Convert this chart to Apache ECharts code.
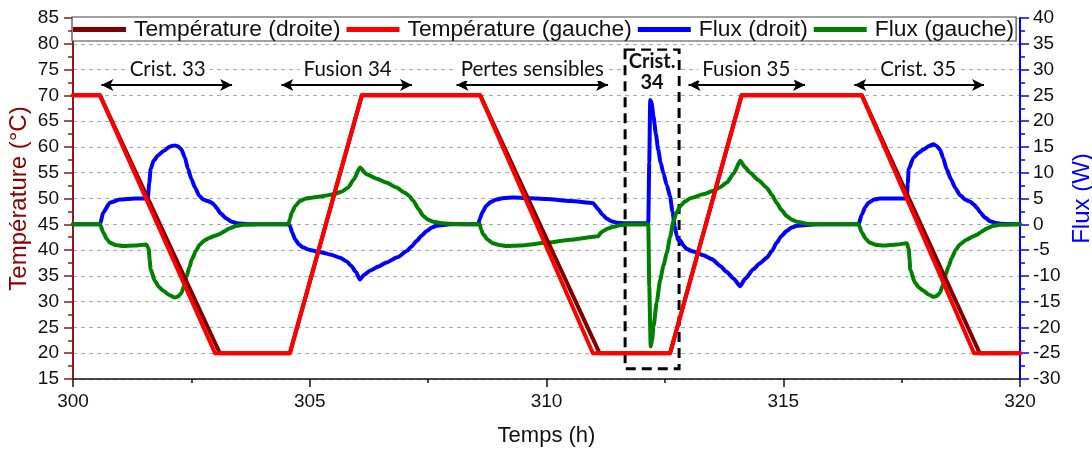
<!DOCTYPE html>
<html>
<head>
<meta charset="utf-8">
<script src="https://cdn.jsdelivr.net/npm/echarts@6/dist/echarts.min.js"></script>
<style>
html,body{margin:0;padding:0;background:#fff;}
#chart{width:1092px;height:450px;}
</style>
</head>
<body>
<div id="chart"></div>
<script>
// ---------- DATA ----------
const seriesNames = ['Température (droite)', 'Température (gauche)', 'Flux (droit)', 'Flux (gauche)'];

const tempGaucheT = [300, 300.57, 303.0, 304.58, 306.1, 308.6, 310.98, 312.61, 314.12, 316.66, 319.03, 320];
const tempGaucheV = [70, 70, 20, 20, 70, 70, 20, 20, 70, 70, 20, 20];

const tempDroiteT = [300, 300.57, 303.1, 304.58, 306.1, 308.6, 311.12, 312.61, 314.12, 316.66, 319.15, 320];
const tempDroiteV = [70, 70, 20, 20, 70, 70, 20, 20, 70, 70, 20, 20];

const fluxDroitT = [300, 300.57, 300.64, 300.78, 300.99, 301.3, 301.58, 301.61, 301.64, 301.70, 301.8, 301.91, 302.05, 302.15, 302.22, 302.29, 302.36, 302.43, 302.5, 302.58, 302.66, 302.75, 302.85, 302.93, 302.98, 303.03, 303.12, 303.24, 303.35, 303.46, 303.74,
  304.55, 304.58, 304.63, 304.69, 304.77, 304.86, 305.0, 305.22, 305.45, 305.64, 305.78, 305.88, 305.97, 306.06, 306.15, 306.27, 306.45, 306.62, 306.85, 307.05, 307.15, 307.26, 307.36, 307.47, 307.58, 307.68, 307.96,
  308.56, 308.59, 308.65, 308.73, 308.82, 308.94, 309.1, 309.3, 310.0, 310.5, 310.99, 311.04, 311.09, 311.18, 311.27, 311.37, 311.48, 311.65, 312.15,
  312.17, 312.19, 312.22, 312.26, 312.31, 312.36, 312.41, 312.47, 312.54, 312.61, 312.66, 312.71, 312.75, 312.78, 312.82, 312.9, 312.96, 313.1, 313.31, 313.5, 313.67, 313.8, 313.95, 314.09, 314.2, 314.37, 314.5, 314.65, 314.76, 314.86, 314.96, 315.07, 315.18, 315.29, 315.71,
  316.59, 316.66, 316.73, 316.80, 316.92, 317.04, 317.35, 317.61, 317.63, 317.65, 317.75, 317.85, 317.96, 318.08, 318.17, 318.24, 318.31, 318.38, 318.45, 318.54, 318.63, 318.73, 318.84, 318.94, 319.02, 319.09, 319.16, 319.26, 319.37, 319.47, 319.58, 320];
const fluxDroitV = [0, 0, 2.3, 4.2, 4.8, 5, 5, 8, 10.7, 12.3, 13.4, 14.2, 15.1, 15.3, 15.1, 14.5, 13, 10.7, 8.8, 7.1, 5.6, 4.8, 4.5, 4.2, 3.8, 3.2, 2.1, 1.1, 0.5, 0.2, 0,
  0, -0.3, -1.6, -2.9, -3.9, -4.5, -5.0, -5.4, -5.9, -6.5, -7.2, -8.1, -9.2, -10.7, -9.8, -9, -8.2, -7.4, -6.4, -5.2, -4.3, -3.2, -2.2, -1.3, -0.6, -0.3, 0,
  0, 1, 2.4, 3.6, 4.3, 4.8, 5.1, 5.2, 4.9, 4.5, 4.1, 3.5, 2.9, 1.9, 1.1, 0.6, 0.3, 0.2, 0.2,
  12, 24.1, 23.5, 20.9, 17.5, 14.4, 12, 9.9, 7.6, 5.4, 2.5, -0.5, -2.2, -3, -3.1, -4.2, -4.8, -5.3, -6.0, -6.8, -8.1, -9.2, -10.5, -12, -10.5, -8.7, -7.6, -6.5, -5.2, -3.6, -2.3, -1.3, -0.6, -0.3, 0,
  0, 1.9, 3.3, 4.2, 4.8, 5, 5, 5, 8, 10.7, 12.9, 13.8, 14.5, 15.2, 15.5, 15.2, 14.5, 12.8, 10.7, 8.8, 7.1, 5.7, 4.8, 4.4, 3.9, 3.2, 2.3, 1.3, 0.6, 0.3, 0.1, 0];

const fluxGaucheT = [300, 300.57, 300.64, 300.71, 300.78, 300.9, 301.06, 301.3, 301.55, 301.6, 301.62, 301.64, 301.73, 301.82, 301.91, 302.03, 302.15, 302.22, 302.29, 302.35, 302.40, 302.46, 302.51, 302.6, 302.68, 302.78, 302.89, 303.0, 303.10, 303.15, 303.21, 303.3, 303.46, 303.6, 303.88,
  304.55, 304.58, 304.62, 304.7, 304.79, 304.92, 305.07, 305.3, 305.5, 305.67, 305.81, 305.93, 306.06, 306.2, 306.4, 306.62, 306.82, 307.01, 307.1, 307.19, 307.3, 307.4, 307.5, 307.61, 307.8, 307.96, 308.38,
  308.59, 308.62, 308.66, 308.76, 308.87, 309.0, 309.16, 309.44, 310.0, 310.5, 311.09, 311.15, 311.2, 311.3, 311.41, 311.55, 311.69, 312.15,
  312.17, 312.2, 312.23, 312.26, 312.33, 312.40, 312.47, 312.54, 312.61, 312.68, 312.75, 312.82, 312.92, 313.03, 313.1, 313.3, 313.53, 313.67, 313.81, 313.95, 314.09, 314.2, 314.3, 314.47, 314.65, 314.76, 314.86, 314.96, 315.07, 315.18, 315.29, 315.5, 315.71,
  316.59, 316.66, 316.74, 316.83, 316.97, 317.12, 317.4, 317.61, 317.65, 317.67, 317.68, 317.78, 317.87, 317.96, 318.07, 318.17, 318.24, 318.31, 318.37, 318.42, 318.49, 318.56, 318.64, 318.73, 318.87, 319.02, 319.1, 319.16, 319.23, 319.30, 319.44, 319.58, 320];
const fluxGaucheV = [0, 0, -1.6, -2.8, -3.6, -4.0, -4.2, -4.1, -3.9, -4.8, -7, -8.7, -11, -12.2, -12.9, -13.7, -14.2, -14.0, -13.3, -11.8, -10, -8.3, -6.8, -5.1, -3.9, -3.1, -2.6, -2.2, -1.9, -1.6, -1.3, -0.8, -0.3, -0.1, 0,
  0, 1, 2.3, 3.6, 4.5, 5.0, 5.2, 5.5, 5.8, 6.3, 7.1, 8.7, 11, 9.7, 8.9, 8.1, 7.2, 6.1, 5.5, 4.5, 2.9, 1.6, 0.9, 0.5, 0.2, 0.1, 0,
  0, -1, -1.9, -3.0, -3.7, -4.0, -4.2, -4.1, -3.6, -3.0, -2.3, -1.6, -1.3, -0.8, -0.5, -0.2, -0.05, 0,
  -12, -23.7, -22.5, -19.8, -15, -10.8, -8, -5.6, -2.5, 0.6, 2.3, 3.5, 4.4, 5, 5.2, 5.8, 6.5, 7.2, 8.1, 9.8, 12.3, 11, 10, 8.6, 7.1, 5.7, 4.2, 2.8, 1.6, 0.9, 0.5, 0.1, 0,
  0, -1.6, -2.8, -3.6, -4.0, -4.1, -3.9, -3.7, -4.8, -7, -8.7, -11.3, -12.3, -12.9, -13.6, -14.1, -13.9, -13.3, -11.8, -10, -8.2, -6.5, -5.0, -3.9, -3.0, -2.3, -2.0, -1.6, -1.2, -0.8, -0.3, -0.1, 0];

// phase annotations
const phaseLabels = ['Crist. 33', 'Fusion 34', 'Pertes sensibles', 'Fusion 35', 'Crist. 35'];
const phaseLabelX = [302.0, 305.8, 309.7, 314.22, 317.85];
const phaseLabelY = 75;
const arrowStart = [300.6, 304.4, 308.1, 313.0, 316.5];
const arrowEnd = [303.36, 307.16, 311.3, 315.46, 319.24];
const arrowY = 72;
const boxLabel = 'Crist.\n34';
const boxX = [311.66, 312.80];
const boxY = [17, 78.8];
const boxLabelPos = [312.23, 74.6];

// ---------- CHART ----------
const zip = (a, b) => a.map((v, i) => [v, b[i]]);
const chart = echarts.init(document.getElementById('chart'), null, {renderer: 'canvas'});
const font = 'Liberation Sans';
const annFont = 'Lato';

const markLineData = arrowStart.map((s, i) => [{coord: [s, arrowY]}, {coord: [arrowEnd[i], arrowY]}]);
const markPointData = phaseLabels.map((t, i) => ({name: t, coord: [phaseLabelX[i], phaseLabelY]}));

const option = {
  animation: false,
  backgroundColor: '#fff',
  grid: {left: 73, right: 72, top: 18, bottom: 71, containLabel: false, outerBoundsMode: 'none'},
  legend: {
    data: seriesNames,
    left: 72, top: 17,
    padding: [1, 2, 0, 1],
    itemGap: 6,
    itemWidth: 53, itemHeight: 5,
    icon: 'rect',
    backgroundColor: '#fff',
    borderColor: '#444', borderWidth: 1.2,
    textStyle: {fontFamily: font, fontSize: 22.8, color: '#111', padding: [0, 0, 0, 3]},
    z: 10
  },
  xAxis: {
    type: 'value', min: 300, max: 320, interval: 5,
    name: 'Temps (h)', nameLocation: 'middle', nameGap: 46, nameMoveOverlap: false,
    nameTextStyle: {fontFamily: font, fontSize: 22, color: '#111'},
    axisLine: {show: true, onZero: false, lineStyle: {color: '#111', width: 1.5}},
    axisTick: {show: true, length: 8, lineStyle: {color: '#111', width: 1.5}},
    minorTick: {show: true, splitNumber: 2, length: 4, lineStyle: {color: '#111', width: 1.5}},
    axisLabel: {fontFamily: font, fontSize: 19, color: '#111', margin: 13},
    splitLine: {show: false}
  },
  yAxis: [
    {
      type: 'value', min: 15, max: 85, interval: 5, position: 'left',
      name: 'Température (°C)', nameLocation: 'middle', nameGap: 42, nameMoveOverlap: false,
      nameTextStyle: {fontFamily: font, fontSize: 24, color: '#8B0000'},
      axisLine: {show: true, onZero: false, lineStyle: {color: '#8B1A1A', width: 2}},
      axisTick: {show: true, length: 9, lineStyle: {color: '#8B1A1A', width: 1.5}},
      minorTick: {show: true, splitNumber: 2, length: 5, lineStyle: {color: '#8B1A1A', width: 1.5}},
      axisLabel: {fontFamily: font, fontSize: 19, color: '#111', margin: 14},
      splitLine: {show: true, lineStyle: {color: '#aaa', width: 1, type: [4, 4]}}
    },
    {
      type: 'value', min: -30, max: 40, interval: 5, position: 'right',
      name: 'Flux (W)', nameLocation: 'middle', nameGap: 50, nameMoveOverlap: false,
      nameTextStyle: {fontFamily: font, fontSize: 24, color: '#0000FF'},
      axisLine: {show: true, onZero: false, lineStyle: {color: '#0000FF', width: 2}},
      axisTick: {show: true, length: 9, lineStyle: {color: '#0000FF', width: 1.5}},
      minorTick: {show: true, splitNumber: 2, length: 5, lineStyle: {color: '#0000FF', width: 1.5}},
      axisLabel: {fontFamily: font, fontSize: 19, color: '#111', margin: 13},
      splitLine: {show: false}
    }
  ],
  series: [
    {
      name: seriesNames[0], type: 'line', yAxisIndex: 0, z: 4,
      data: zip(tempDroiteT, tempDroiteV), showSymbol: false, symbol: 'none',
      itemStyle: {color: '#800000'},
      lineStyle: {color: '#800000', width: 4, join: 'round', cap: 'round'}
    },
    {
      name: seriesNames[1], type: 'line', yAxisIndex: 0, z: 5,
      data: zip(tempGaucheT, tempGaucheV), showSymbol: false, symbol: 'none',
      itemStyle: {color: '#FF0000'},
      lineStyle: {color: '#FF0000', width: 4, join: 'round', cap: 'round'},
      markLine: {
        silent: true, symbol: ['arrow', 'arrow'], symbolSize: [9, 12],
        lineStyle: {color: '#000', width: 2, type: 'solid'},
        label: {show: false},
        data: markLineData
      },
      markPoint: {
        silent: true, symbol: 'rect', symbolSize: 1,
        itemStyle: {color: 'rgba(0,0,0,0)'},
        label: {show: true, position: 'inside', formatter: '{b}', fontFamily: annFont, fontSize: 20.5, color: '#111', backgroundColor: '#fff', padding: [1, 4]},
        data: markPointData.concat([{
          name: boxLabel, coord: boxLabelPos,
          label: {fontWeight: 'bold', fontSize: 20, lineHeight: 21, backgroundColor: '#fff', padding: [0, 2]}
        }])
      },
      markArea: {
        silent: true,
        itemStyle: {color: 'rgba(0,0,0,0)', borderColor: '#000', borderWidth: 3, borderType: [10, 6]},
        data: [[{coord: [boxX[0], boxY[1]]}, {coord: [boxX[1], boxY[0]]}]]
      }
    },
    {
      name: seriesNames[2], type: 'line', yAxisIndex: 1, z: 3,
      data: zip(fluxDroitT, fluxDroitV), showSymbol: false, symbol: 'none',
      smooth: 0.2, smoothMonotone: 'x',
      itemStyle: {color: '#0000FF'},
      lineStyle: {color: '#0000FF', width: 4, join: 'round', cap: 'round'}
    },
    {
      name: seriesNames[3], type: 'line', yAxisIndex: 1, z: 3,
      data: zip(fluxGaucheT, fluxGaucheV), showSymbol: false, symbol: 'none',
      smooth: 0.2, smoothMonotone: 'x',
      itemStyle: {color: '#008000'},
      lineStyle: {color: '#008000', width: 4, join: 'round', cap: 'round'}
    }
  ]
};
chart.setOption(option);
</script>
</body>
</html>
